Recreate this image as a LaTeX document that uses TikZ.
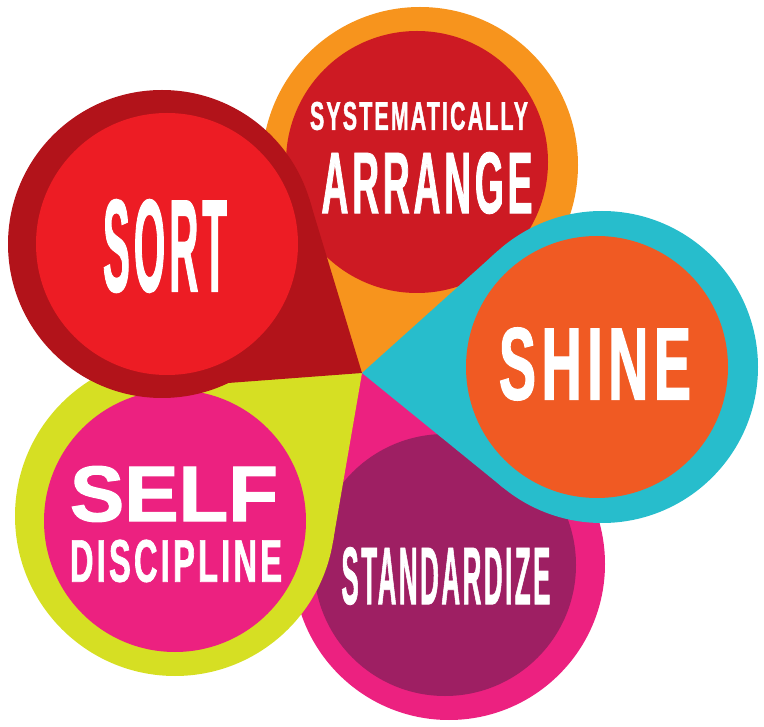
\documentclass[tikz,border=0pt]{standalone}
\usepackage{fontspec}
\setmainfont{Liberation Sans}
\newfontfamily\narrowfont[FakeStretch=0.5, FakeBold=1, LetterSpace=5]{Liberation Sans}
\newfontfamily\heavyfont[FakeBold=1.5]{Liberation Sans}
\usepackage{graphicx}
\usetikzlibrary{calc}

\definecolor{sortring}{HTML}{B2131A}
\definecolor{sortdisc}{HTML}{ED1C24}
\definecolor{arrangering}{HTML}{F7941D}
\definecolor{arrangedisc}{HTML}{CD1A23}
\definecolor{shinering}{HTML}{27BDCC}
\definecolor{shinedisc}{HTML}{F05A23}
\definecolor{selfring}{HTML}{D6DF23}
\definecolor{selfdisc}{HTML}{EC2180}
\definecolor{standring}{HTML}{EC2180}
\definecolor{standdisc}{HTML}{9E1F63}

\newcommand{\fitlabel}[3]{\resizebox{#1pt}{#2pt}{\narrowfont\bfseries #3}}
\newcommand{\fitheavy}[3]{\resizebox{#1pt}{#2pt}{\heavyfont\bfseries #3}}

\tikzset{
  ring/.style={circle, inner sep=0pt, outer sep=0pt, minimum size=312pt},
  disc/.style={circle, inner sep=0pt, outer sep=0pt, minimum size=262pt},
  word/.style={inner sep=0pt, outer sep=0pt, text=white},
}

\begin{document}
\begin{tikzpicture}[x=1pt, y=-1pt]
  \useasboundingbox (0,0) rectangle (764,727);
  \coordinate (tip) at (362,373);

  % systematically arrange
  \node [ring, fill=arrangering, minimum size=316pt] (arrangeout) at (420,165) {};
  \fill [arrangering] (tip) -- (tangent cs:node=arrangeout,point={(tip)},solution=1)
    -- (arrangeout.center) -- (tangent cs:node=arrangeout,point={(tip)},solution=2) -- cycle;
  \node [disc, fill=arrangedisc] (arrange) at (417,162) {};
  \node [word] (systematically) at (419,116) {\fitlabel{218}{28}{SYSTEMATICALLY}};
  \node [word] (arrangeword) at (427,183) {\fitlabel{211}{61}{ARRANGE}};

  % standardize
  \node [ring, fill=standring] (standout) at (449,564) {};
  \fill [standring] (tip) -- (tangent cs:node=standout,point={(tip)},solution=1)
    -- (standout.center) -- (tangent cs:node=standout,point={(tip)},solution=2) -- cycle;
  \node [disc, fill=standdisc] (stand) at (445,565) {};
  \node [word] (standword) at (446,576) {\fitlabel{209}{57}{STANDARDIZE}};

  % self discipline
  \node [ring, fill=selfring, minimum size=320pt] (selfout) at (175,516) {};
  \fill [selfring] (tip) -- (tangent cs:node=selfout,point={(tip)},solution=1)
    -- (selfout.center) -- (tangent cs:node=selfout,point={(tip)},solution=2) -- cycle;
  \node [disc, fill=selfdisc] (self) at (175,521) {};
  \node [word] (selfword) at (174,494) {\fitheavy{208}{55}{SELF}};
  \node [word] (discipline) at (176,561) {\fitlabel{212}{42}{DISCIPLINE}};

  % shine
  \node [ring, fill=shinering] (shineout) at (602,367) {};
  \fill [shinering] (tip) -- (tangent cs:node=shineout,point={(tip)},solution=1)
    -- (shineout.center) -- (tangent cs:node=shineout,point={(tip)},solution=2) -- cycle;
  \node [disc, fill=shinedisc] (shine) at (597,367) {};
  \node [word] (shineword) at (595,364) {\fitlabel{192}{72}{SHINE}};

  % sort
  \node [ring, fill=sortring, minimum size=308pt] (sortout) at (162,244) {};
  \coordinate (sortfoot) at (228,383);
  \fill [sortring] (tip) -- ($(sortout.center)+(-17:154)$)
    -- (sortout.center) -- (sortfoot) -- cycle;
  \node [disc, fill=sortdisc] (sort) at (167,244) {};
  \node [word] (sortword) at (165,246) {\fitlabel{124}{92}{SORT}};
\end{tikzpicture}
\end{document}
